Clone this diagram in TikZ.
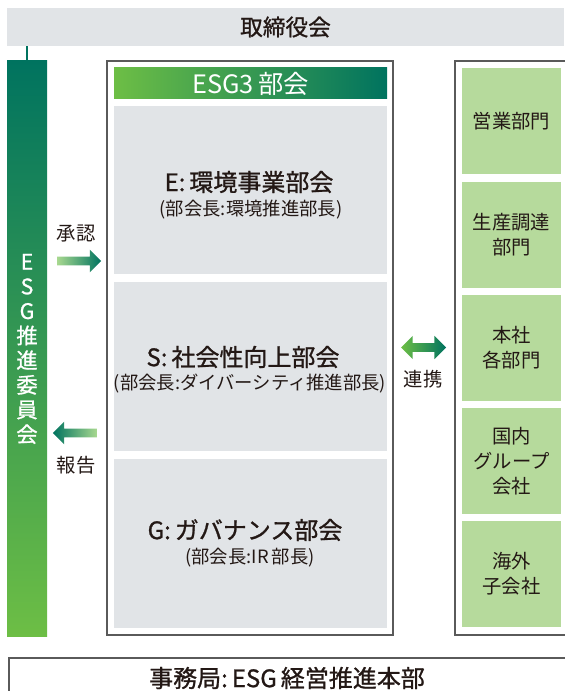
\documentclass[tikz,border=0pt]{standalone}
\usepackage{fontspec}
\setmainfont{Noto Sans CJK JP}
\newfontfamily\jpmed{Noto Sans CJK JP}[FakeBold=1]
\usetikzlibrary{shapes.arrows,positioning}
\definecolor{esgteal}{HTML}{00735F}
\definecolor{esgmid}{HTML}{17AC87}
\definecolor{esggreen}{HTML}{6DBE45}
\definecolor{boxgray}{HTML}{E1E4E7}
\definecolor{deptgreen}{HTML}{B6DA9C}
\definecolor{framegray}{HTML}{5A5A5A}
\definecolor{inkdark}{HTML}{231815}
\begin{document}
\begin{tikzpicture}
  [x=0.75pt,y=-0.75pt,
   every node/.style={inner sep=0pt,text=inkdark,align=center},
   frame/.style={draw=framegray,line width=0.8pt,fill=white},
   graybox/.style={fill=boxgray,minimum width=204.75pt},
   dept/.style={fill=deptgreen,minimum width=74.25pt,minimum height=79.5pt,
     font=\fontsize{14.5}{18.75}\selectfont},
   headfont/.style={font=\jpmed\fontsize{18}{20}\selectfont},
   subfont/.style={font=\fontsize{13.75}{16}\selectfont},
   labelfont/.style={font=\fontsize{14.5}{17}\selectfont}]
\useasboundingbox (0,0) rectangle (564,691);

% top and bottom bars
\node (board)[fill=boxgray,minimum width=417.75pt,minimum height=28.5pt,
  font=\jpmed\fontsize{17}{19}\selectfont] at (285.5,27) {取締役会};
\node (office)[frame,minimum width=420.75pt,minimum height=31.5pt] at (289.5,679) {};
\node (officetxt)[font=\jpmed\fontsize{18}{19}\selectfont] at (287,678)
  {事務局:\,ESG\,経営推進本部};

% ESG committee
\node (esgc)[top color=esgteal,middle color=esgmid,bottom color=esggreen,
  minimum width=30pt,minimum height=431.25pt] at (27,348.5) {};
\node (esgctxt)[text=white,font=\jpmed\fontsize{16}{18.5}\selectfont] at (27,349)
  {E\\S\\G\\推\\進\\委\\員\\会};
\draw[esgteal,line width=1.6pt] (esgc.north) -- (esgc.north |- board.south);

% ESG3 bukai
\node (mid)[frame,minimum width=214.5pt,minimum height=430.5pt] at (250,348) {};
\node (head)[left color=esggreen,middle color=esgmid,right color=esgteal,
  minimum width=204.75pt,minimum height=23.25pt,text=white,
  font=\fontsize{19}{20}\selectfont] at (250.5,83.5) {ESG3\,部会};
\node (ebox)[graybox,minimum height=126pt] at (250.5,190) {};
\node (sbox)[graybox,minimum height=126.75pt] at (250.5,366.5) {};
\node (gbox)[graybox,minimum height=126.75pt] at (250.5,543.5) {};
\node (etitle)[headfont] at (249,182) {E:\,環境事業部会};
\node (esub)[subfont] at (251,210) {(部会長:環境推進部長)};
\node (stitle)[headfont] at (243,357) {S:\,社会性向上部会};
\node (ssub)[subfont] at (250,384) {(部会長:ダイバーシティ推進部長)};
\node (gtitle)[headfont] at (245,530) {G:\,ガバナンス部会};
\node (gsub)[subfont] at (250,558) {(部会長:IR\,部長)};

% departments
\node (depts)[frame,minimum width=90pt,minimum height=430.5pt] at (515,348) {};
\node (d1)[dept] at (511.5,121.5) {営業部門};
\node (d2)[dept] at (511.5,235) {生産調達\\部門};
\node (d3)[dept] at (511.5,348) {本社\\各部門};
\node (d4)[dept] at (511.5,461) {国内\\グループ\\会社};
\node (d5)[dept] at (511.5,574) {海外\\子会社};

% arrows
\node (approve)[single arrow,left color=esggreen!60,right color=esgteal,
  minimum height=33pt,minimum width=16.5pt,single arrow head extend=5.25pt,
  inner ysep=3pt] at (77,261) {};
\node (approvetxt)[labelfont] at (76,234) {承認};
\node (report)[single arrow,shape border rotate=180,left color=esgteal,right color=esggreen!60,
  minimum height=33pt,minimum width=16.5pt,single arrow head extend=5.25pt,
  inner ysep=3pt] at (77,433) {};
\node (reporttxt)[labelfont] at (76,465) {報告};
\node (link)[double arrow,left color=esggreen,right color=esgteal,
  minimum height=33.75pt,minimum width=17.25pt,double arrow head extend=5.5pt,
  inner ysep=3pt] at (423.5,347.5) {};
\node (linktxt)[labelfont] at (423,379) {連携};

\end{tikzpicture}
\end{document}
